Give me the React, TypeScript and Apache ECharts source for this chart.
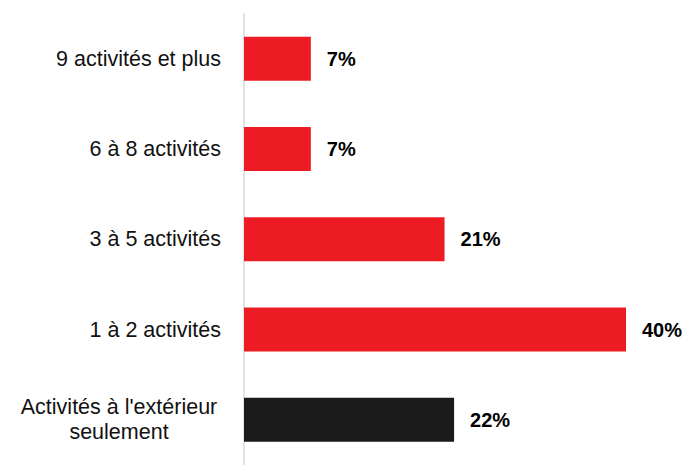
import React, { useEffect, useRef } from "react";
import * as echarts from "echarts";

const categories = [
  "9 activités et plus",
  "6 à 8 activités",
  "3 à 5 activités",
  "1 à 2 activités",
  "Activités à l'extérieur\nseulement",
];
const values = [7, 7, 21, 40, 22];
const barColors = ["#ED1C24", "#ED1C24", "#ED1C24", "#ED1C24", "#1A1A1A"];

export default function App() {
  const ref = useRef<HTMLDivElement>(null);
  useEffect(() => {
    if (!ref.current) return;
    const chart = echarts.init(ref.current, undefined, { renderer: "svg" });
    const font = "'Liberation Sans', Arial, sans-serif";
    chart.setOption({
      animation: false,
      grid: { left: 244, top: 13.5, height: 455.5, width: 382, containLabel: false },
      xAxis: {
        type: "value",
        min: 0,
        max: 40,
        show: false,
      },
      yAxis: {
        type: "category",
        inverse: true,
        data: categories,
        axisLine: { show: true, lineStyle: { color: "#D9D9D9", width: 1.5 } },
        axisTick: { show: false },
        axisLabel: {
          margin: 23,
          color: "#111",
          fontFamily: font,
          fontSize: 21.5,
          lineHeight: 25,
          formatter: (v: string) => {
            if (v.indexOf("\n") >= 0) {
              return v
                .split("\n")
                .map((s) => `{w|${s}}`)
                .join("\n");
            }
            return v;
          },
          rich: {
            w: {
              width: 204,
              align: "center",
              fontSize: 21.5,
              lineHeight: 25,
              fontFamily: font,
              color: "#111",
            },
          },
        },
      },
      series: [
        {
          type: "bar",
          data: values.map((v, i) => ({ value: v, itemStyle: { color: barColors[i] } })),
          barWidth: 44,
          label: {
            show: true,
            position: "right",
            distance: 16,
            formatter: "{c}%",
            color: "#000",
            fontFamily: font,
            fontWeight: "bold",
            fontSize: 20,
          },
        },
      ],
    });
    return () => chart.dispose();
  }, []);
  return (
    <div
      ref={ref}
      style={{ position: "fixed", left: 0, top: 0, width: 686, height: 465, background: "#fff" }}
    />
  );
}
